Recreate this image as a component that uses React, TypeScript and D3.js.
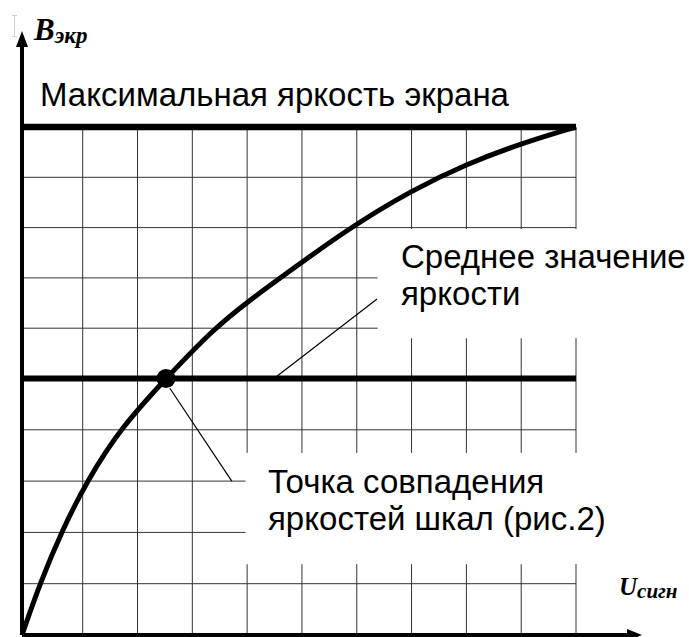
import React from "react";
import * as d3 from "d3";

// Data (grid units: 0..10 on both axes)
const gridXTicks = [1, 2, 3, 4, 5, 6, 7, 8, 9, 10];
const gridYTicks = [1, 2, 3, 4, 5, 6, 7, 8, 9];
const curveX = [0, 0.31, 0.67, 1.07, 1.71, 2.52, 3.36, 4.05, 4.63, 5.87, 7.02, 7.99, 9.02, 10];
const curveY = [0, 1.05, 2.06, 2.99, 4.06, 5.0, 5.96, 6.56, 7.02, 8.0, 8.75, 9.26, 9.68, 10];
const maxLevel = 10;
const meanLevel = 5;
const matchPoint = [2.52, 5];
const titleMax = "Максимальная яркость экрана";
const labelMean = ["Среднее значение", "яркости"];
const labelPoint = ["Точка совпадения", "яркостей шкал (рис.2)"];
const yAxisLabel = ["B", "экр"];
const xAxisLabel = ["U", "сигн"];

const W = 689;
const H = 637;

export default function App() {
  const x = d3.scaleLinear().domain([0, 1, 10]).range([22, 82.7, 576]);
  const y = d3.scaleLinear().domain([0, 5, 10]).range([635, 378.5, 127]);

  const pts: [number, number][] = curveX.map((v, i) => [v, curveY[i]]);
  const line = d3
    .line<[number, number]>()
    .x((d) => x(d[0]))
    .y((d) => y(d[1]))
    .curve(d3.curveBasis);

  // label clearing boxes (grid units)
  const meanBox = { x0: 6.38, y0: 5.8, y1: 7.97 };
  const pointBox = { x0: 3.97, y0: 1.38, y1: 3.55 };

  const sans = "'Liberation Sans', Arial, sans-serif";
  const serif = "'Liberation Serif', 'Times New Roman', serif";
  const fs = 33;

  return (
    <svg
      width={W}
      height={H}
      style={{ position: "absolute", left: 0, top: 0, background: "#fff" }}
    >
      <rect width={W} height={H} fill="#fff" />
      {/* faint cursor artifact */}
      <g stroke="#d0d0d0" strokeWidth={1}>
        <line x1={14.5} y1={15} x2={14.5} y2={37} />
        <line x1={12} y1={15.5} x2={17} y2={15.5} />
        <line x1={12} y1={36.5} x2={17} y2={36.5} />
      </g>
      {/* grid */}
      <g stroke="#333" strokeWidth={1}>
        {gridXTicks.map((t) => (
          <line key={"v" + t} x1={x(t)} x2={x(t)} y1={y(maxLevel)} y2={y(0)} />
        ))}
        {gridYTicks.map((t) => (
          <line key={"h" + t} x1={x(0)} x2={x(10)} y1={y(t)} y2={y(t)} />
        ))}
      </g>
      {/* white boxes behind labels */}
      <rect
        x={x(meanBox.x0)}
        y={y(meanBox.y1)}
        width={W - x(meanBox.x0)}
        height={y(meanBox.y0) - y(meanBox.y1)}
        fill="#fff"
      />
      <rect
        x={x(pointBox.x0)}
        y={y(pointBox.y1)}
        width={W - x(pointBox.x0)}
        height={y(pointBox.y0) - y(pointBox.y1)}
        fill="#fff"
      />
      {/* thick level lines */}
      <line x1={x(0)} x2={x(10)} y1={y(maxLevel)} y2={y(maxLevel)} stroke="#000" strokeWidth={6.5} />
      <line x1={x(0)} x2={x(10)} y1={y(meanLevel)} y2={y(meanLevel)} stroke="#000" strokeWidth={6} />
      {/* curve */}
      <path d={line(pts) || ""} fill="none" stroke="#000" strokeWidth={5} />
      {/* match point */}
      <circle cx={x(matchPoint[0])} cy={y(matchPoint[1])} r={9.5} fill="#000" />
      {/* leader lines */}
      <line x1={x(4.49)} y1={y(5)} x2={x(6.37)} y2={y(6.58)} stroke="#000" strokeWidth={1.2} />
      <line x1={x(2.59)} y1={y(4.81)} x2={x(3.72)} y2={y(3)} stroke="#000" strokeWidth={1.2} />
      {/* axes */}
      <line x1={x(0)} y1={y(0)} x2={x(0)} y2={44} stroke="#000" strokeWidth={4} />
      <path d={`M${x(0)},31 L${x(0) - 6},47 L${x(0) + 6},47 Z`} fill="#000" />
      <line x1={x(0)} y1={y(0)} x2={630} y2={y(0)} stroke="#000" strokeWidth={4} />
      <path d={`M642,${y(0)} L627,${y(0) - 6} L627,${y(0) + 6} Z`} fill="#000" />
      {/* texts */}
      <text x={40} y={106} fontFamily={sans} fontSize={fs} fill="#000">
        {titleMax}
      </text>
      <text x={401} y={268} fontFamily={sans} fontSize={fs} fill="#000">
        {labelMean[0]}
      </text>
      <text x={401} y={305} fontFamily={sans} fontSize={fs} fill="#000">
        {labelMean[1]}
      </text>
      <text x={268} y={493} fontFamily={sans} fontSize={fs} fill="#000">
        {labelPoint[0]}
      </text>
      <text x={268} y={530} fontFamily={sans} fontSize={fs} fill="#000">
        {labelPoint[1]}
      </text>
      <text fontFamily={serif} fontWeight="bold" fontStyle="italic" fill="#000">
        <tspan x={34} y={40} fontSize={31}>{yAxisLabel[0]}</tspan>
        <tspan y={43} fontSize={23}>{yAxisLabel[1]}</tspan>
      </text>
      <text fontFamily={serif} fontWeight="bold" fontStyle="italic" fill="#000">
        <tspan x={619} y={595} fontSize={25}>{xAxisLabel[0]}</tspan>
        <tspan y={598} fontSize={21}>{xAxisLabel[1]}</tspan>
      </text>
    </svg>
  );
}
